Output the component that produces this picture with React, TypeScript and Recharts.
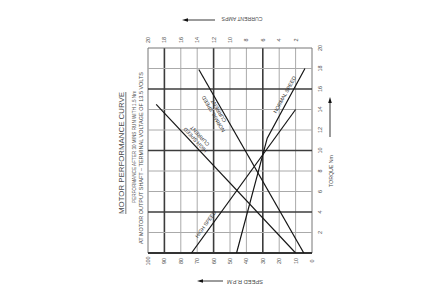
import React from 'react'
import {
  ScatterChart,
  Scatter,
  XAxis,
  YAxis,
  ReferenceLine,
  ReferenceDot,
} from 'recharts'

const speedTicks = [0, 10, 20, 30, 40, 50, 60, 70, 80, 90, 100]
const ampsTicks = [2, 4, 6, 8, 10, 12, 14, 16, 18, 20]
const torqueTicks = [2, 4, 6, 8, 10, 12, 14, 16, 18, 20]
const torqueGrid = [0, ...torqueTicks]

// curves (torque Nm vs rpm / amps)
const highSpeed = [
  { torque: 0, speed: 73.5 },
  { torque: 14, speed: 10 },
]
const normalSpeed = [
  { torque: 0, speed: 46 },
  { torque: 11.2, speed: 27.3 },
  { torque: 18, speed: 4.3 },
]
const highCurrent = [
  { torque: 0, amps: 2 },
  { torque: 14.5, amps: 19 },
]
const normalCurrent = [
  { torque: 0, amps: 1 },
  { torque: 17.9, amps: 13.8 },
]

const majorSpeed = [30, 60, 90]
const majorTorque = [4, 10, 16]

const FONT = '"Liberation Sans", Arial, sans-serif'
const INK = '#4a4a4a'

const RotTick = (props: any) => {
  const { x, y, payload } = props
  return (
    <text
      x={x}
      y={y}
      transform={`rotate(-90 ${x} ${y})`}
      textAnchor="middle"
      dominantBaseline="central"
      fontSize={5.5}
      fontFamily={FONT}
      fill={INK}
    >
      {payload.value}
    </text>
  )
}

const NoDot = () => <g />

const LineLabel = ({ cx, cy, lines, angle, dys }: any) => (
  <g transform={`translate(${cx},${cy}) rotate(${angle})`}>
    {lines.map((t: string, i: number) => (
      <text
        key={t}
        x={0}
        y={dys[i]}
        textAnchor="middle"
        fontSize={5.2}
        fontFamily={FONT}
        fill="#333"
      >
        {t}
      </text>
    ))}
  </g>
)

const labels = [
  { axis: 'speed', x: 62.2, y: 2.5, lines: ['HIGH SPEED'], angle: -54, dys: [-3.5] },
  { axis: 'speed', x: 13.8, y: 15.2, lines: ['NORMAL SPEED'], angle: -61, dys: [-3.5] },
  { axis: 'amps', x: 14.6, y: 10.75, lines: ['HIGH SPEED', 'CURRENT'], angle: -133, dys: [6, 12] },
  { axis: 'amps', x: 11.0, y: 14.05, lines: ['NORMAL SPEED', 'CURRENT'], angle: -120, dys: [-8, -2] },
]

const lineStyle = { stroke: '#151515', strokeWidth: 1.2 }

export default function App() {
  return (
    <div style={{ position: 'absolute', left: 0, top: 0, width: 448, height: 298, background: '#fff' }}>
      <ScatterChart width={448} height={298} margin={{ top: 28, right: 116, bottom: 25, left: 148 }}>
        <XAxis
          xAxisId="speed"
          type="number"
          dataKey="speed"
          orientation="bottom"
          domain={[0, 100]}
          reversed
          ticks={speedTicks}
          tick={<RotTick />}
          axisLine={false}
          tickLine={false}
          height={20}
          interval={0}
          allowDataOverflow
        />
        <XAxis
          xAxisId="amps"
          type="number"
          dataKey="amps"
          orientation="top"
          domain={[0, 20]}
          reversed
          ticks={ampsTicks}
          tick={<RotTick />}
          axisLine={false}
          tickLine={false}
          height={20}
          interval={0}
          allowDataOverflow
        />
        <YAxis
          yAxisId="torque"
          type="number"
          dataKey="torque"
          orientation="right"
          domain={[0, 20]}
          ticks={torqueTicks}
          tick={<RotTick />}
          axisLine={false}
          tickLine={false}
          width={20}
          interval={0}
          allowDataOverflow
        />

        {speedTicks.map((v) => (
          <ReferenceLine
            key={'vs' + v}
            xAxisId="speed"
            yAxisId="torque"
            x={v}
            stroke={majorSpeed.includes(v) ? '#3c3c3c' : v === 0 || v === 100 ? '#777' : '#aaa'}
            strokeWidth={majorSpeed.includes(v) ? 1.6 : 1}
          />
        ))}
        {torqueGrid.map((v) => (
          <ReferenceLine
            key={'ht' + v}
            xAxisId="speed"
            yAxisId="torque"
            y={v}
            stroke={v === 0 ? '#333' : majorTorque.includes(v) ? '#3c3c3c' : v === 20 ? '#777' : '#aaa'}
            strokeWidth={v === 0 ? 2 : majorTorque.includes(v) ? 1.6 : 1}
          />
        ))}

        <Scatter
          name="High speed"
          data={highSpeed}
          xAxisId="speed"
          yAxisId="torque"
          line={lineStyle}
          lineType="joint"
          shape={<NoDot />}
          isAnimationActive={false}
        />
        <Scatter
          name="Normal speed"
          data={normalSpeed}
          xAxisId="speed"
          yAxisId="torque"
          line={lineStyle}
          lineType="joint"
          shape={<NoDot />}
          isAnimationActive={false}
        />
        <Scatter
          name="High speed current"
          data={highCurrent}
          xAxisId="amps"
          yAxisId="torque"
          line={lineStyle}
          lineType="joint"
          shape={<NoDot />}
          isAnimationActive={false}
        />
        <Scatter
          name="Normal speed current"
          data={normalCurrent}
          xAxisId="amps"
          yAxisId="torque"
          line={lineStyle}
          lineType="joint"
          shape={<NoDot />}
          isAnimationActive={false}
        />

        {labels.map((l, i) => (
          <ReferenceDot
            key={'lbl' + i}
            xAxisId={l.axis}
            yAxisId="torque"
            x={l.x}
            y={l.y}
            r={0}
            shape={(p: any) => <LineLabel cx={p.cx} cy={p.cy} lines={l.lines} angle={l.angle} dys={l.dys} />}
          />
        ))}
      </ScatterChart>

      <svg
        width={448}
        height={298}
        style={{ position: 'absolute', left: 0, top: 0, pointerEvents: 'none' }}
        fontFamily={FONT}
      >
        <g fill={INK}>
          <text
            x={121}
            y={153}
            transform="rotate(-90 121 153)"
            textAnchor="middle"
            dominantBaseline="central"
            fontSize={7.5}
            textDecoration="underline"
            textLength={122}
            lengthAdjust="spacingAndGlyphs"
          >
            MOTOR PERFORMANCE CURVE
          </text>
          <text
            x={134}
            y={147}
            transform="rotate(-90 134 147)"
            textAnchor="middle"
            dominantBaseline="central"
            fontSize={4.5}
            textLength={112}
            lengthAdjust="spacingAndGlyphs"
          >
            PERFORMANCE AFTER 30 MINS RUN WITH 1.5 Nm
          </text>
          <text
            x={141.5}
            y={158}
            transform="rotate(-90 141.5 158)"
            textAnchor="middle"
            dominantBaseline="central"
            fontSize={4.5}
            textLength={172}
            lengthAdjust="spacingAndGlyphs"
          >
            AT MOTOR OUTPUT SHAFT  –  TERMINAL VOLTAGE OF 13.5 VOLTS
          </text>

          <text
            x={242}
            y={19}
            transform="rotate(180 242 19)"
            textAnchor="middle"
            dominantBaseline="central"
            fontSize={5}
            textLength={41}
            lengthAdjust="spacingAndGlyphs"
          >
            CURRENT AMPS
          </text>
          <text
            x={245}
            y={281.5}
            transform="rotate(180 245 281.5)"
            textAnchor="middle"
            dominantBaseline="central"
            fontSize={5}
            textLength={36}
            lengthAdjust="spacingAndGlyphs"
          >
            SPEED R.P.M
          </text>
          <text
            x={331}
            y={171}
            transform="rotate(-90 331 171)"
            textAnchor="middle"
            dominantBaseline="central"
            fontSize={5}
            textLength={32}
            lengthAdjust="spacingAndGlyphs"
          >
            TORQUE Nm
          </text>
        </g>

        <g stroke="#222" strokeWidth={0.9}>
          <line x1={186} y1={20} x2={215} y2={20} />
          <line x1={201} y1={281} x2={223} y2={281} />
          <line x1={330} y1={101} x2={330} y2={137} />
        </g>
        <g fill="#111">
          <polygon points="182,20 188,18.2 188,21.8" />
          <polygon points="197,281 203,279.2 203,282.8" />
          <polygon points="330,97 328.2,103 331.8,103" />
        </g>
      </svg>
    </div>
  )
}
